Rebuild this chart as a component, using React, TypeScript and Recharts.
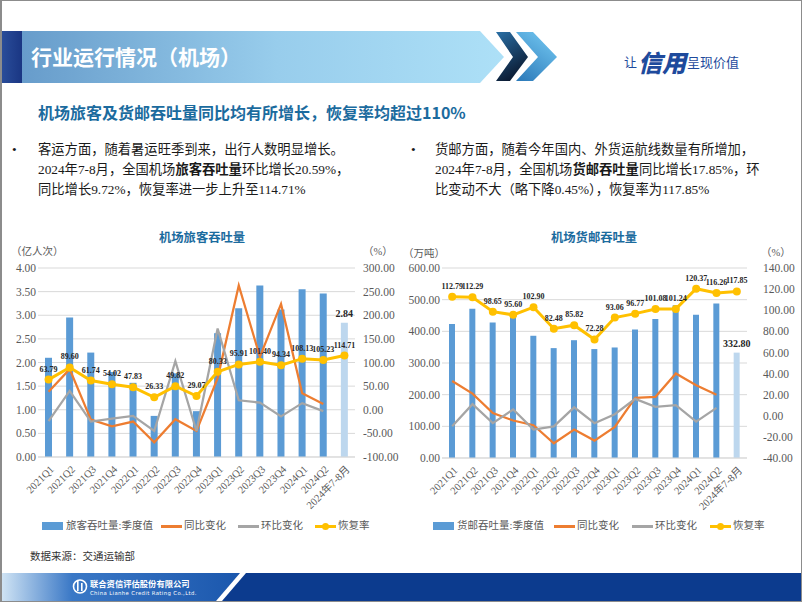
import React from 'react';
import {
  ComposedChart,
  Bar,
  Line,
  XAxis,
  YAxis,
  CartesianGrid,
  Cell,
  LabelList,
} from 'recharts';

// --- Data ---

const categories = [
  '2021Q1', '2021Q2', '2021Q3', '2021Q4',
  '2022Q1', '2022Q2', '2022Q3', '2022Q4',
  '2023Q1', '2023Q2', '2023Q3', '2023Q4',
  '2024Q1', '2024Q2', '2024年7-8月',
];

// 旅客吞吐量 (亿人次) and rates (%)
const paxVolume = [2.1, 2.95, 2.21, 1.8, 1.57, 0.87, 1.77, 0.97, 2.62, 3.15, 3.63, 3.12, 3.55, 3.46, 2.84];
const paxYoy = [38, 86, -21, -35, -25, -69, -20, -45, 67, 263, 112, 224, 35, 12, null];
const paxQoq = [-24, 40, -25, -19, -13, -45, 103, -45, 172, 20, 15, -14, 14, -3, null];
const paxRecovery = [63.79, 89.6, 61.74, 54.02, 47.83, 26.33, 49.82, 29.07, 80.33, 95.91, 101.4, 94.34, 108.13, 105.23, 114.71];

// 货邮吞吐量 (万吨) and rates (%)
const cargoVolume = [423, 471, 428, 450, 386, 347, 372, 344, 349, 406, 439, 482, 452, 488, 332.8];
const cargoYoy = [33, 21, 2.5, -4.5, -9, -26, -13, -23.5, -10.5, 17, 18, 40, 29, 20, null];
const cargoQoq = [-10, 11, -7, 6, -13, -10, 8, -7, 1.5, 16, 8.5, 10, -5.5, 7.5, null];
const cargoRecovery = [112.79, 112.29, 98.65, 95.6, 102.9, 82.48, 85.82, 72.28, 93.06, 96.77, 101.08, 101.24, 120.37, 116.26, 117.85];

const paxLeftTicks = [0, 0.5, 1, 1.5, 2, 2.5, 3, 3.5, 4];
const paxRightTicks = [-100, -50, 0, 50, 100, 150, 200, 250, 300];
const cargoLeftTicks = [0, 100, 200, 300, 400, 500, 600];
const cargoRightTicks = [-40, -20, 0, 20, 40, 60, 80, 100, 120, 140];

const paxData = categories.map((cat, i) => ({
  cat,
  vol: paxVolume[i],
  yoy: paxYoy[i],
  qoq: paxQoq[i],
  rec: paxRecovery[i],
}));

const cargoData = categories.map((cat, i) => ({
  cat,
  vol: cargoVolume[i],
  yoy: cargoYoy[i],
  qoq: cargoQoq[i],
  rec: cargoRecovery[i],
}));

// --- Styles ---

const BLUE = '#5B9BD5';
const LIGHT_BLUE = '#BDD7EE';
const ORANGE = '#ED7D31';
const GRAY = '#A5A5A5';
const YELLOW = '#FFC000';
const AXIS_TEXT = '#595959';
const SERIF = '"Liberation Serif", "Noto Sans CJK SC", serif';
const CJK = '"Noto Sans CJK SC", sans-serif';
const TITLE_BLUE = '#1b6b9e';

const RotatedTick = (props: any) => {
  const { x, y, payload } = props;
  return (
    <g transform={`translate(${x + 6},${y + 13})`}>
      <text
        textAnchor="end"
        transform="rotate(-45)"
        fontSize={10.5}
        fontFamily={SERIF}
        fill={AXIS_TEXT}
      >
        {payload.value}
      </text>
    </g>
  );
};

const lastBarLabel = (props: any) => {
  const { x, y, width, index, value } = props;
  if (index !== categories.length - 1) return null;
  return (
    <text
      x={x + width / 2}
      y={y - 6}
      textAnchor="middle"
      fontSize={10}
      fontWeight="bold"
      fontFamily={SERIF}
      fill="#262626"
    >
      {Number(value).toFixed(2)}
    </text>
  );
};

// --- Chart pieces ---

interface PanelProps {
  data: any[];
  left: number;
  leftAxisWidth: number;
  rightAxisWidth: number;
  leftDomain: number[];
  rightDomain: number[];
  leftTicks: number[];
  rightTicks: number[];
  rightTickMargin: number;
  xAxisHeight: number;
  barSize: number;
}

const Panel: React.FC<PanelProps> = ({
  data,
  left,
  leftAxisWidth,
  rightAxisWidth,
  leftDomain,
  rightDomain,
  leftTicks,
  rightTicks,
  rightTickMargin,
  xAxisHeight,
  barSize,
}) => (
  <div style={{ position: 'absolute', left, top: 240 }}>
    <ComposedChart
      width={400}
      height={300}
      data={data}
      margin={{ top: 28, right: 0, bottom: 0, left: 0 }}
    >
      <CartesianGrid yAxisId="l" vertical={false} stroke="#D9D9D9" />
      <XAxis
        dataKey="cat"
        interval={0}
        height={xAxisHeight}
        tickLine={false}
        axisLine={{ stroke: '#D9D9D9' }}
        tickSize={0}
        tickMargin={0}
        tick={<RotatedTick />}
      />
      <YAxis
        yAxisId="l"
        width={leftAxisWidth}
        domain={leftDomain}
        ticks={leftTicks}
        axisLine={false}
        tickLine={false}
        tickSize={0}
        tickMargin={2}
        interval={0}
        tickFormatter={(v: number) => v.toFixed(2)}
        tick={{ fill: AXIS_TEXT, fontSize: 11.5, fontFamily: SERIF }}
      />
      <YAxis
        yAxisId="r"
        orientation="right"
        width={rightAxisWidth}
        domain={rightDomain}
        ticks={rightTicks}
        axisLine={false}
        tickLine={false}
        tickSize={0}
        tickMargin={rightTickMargin}
        interval={0}
        tickFormatter={(v: number) => v.toFixed(2)}
        tick={{ fill: AXIS_TEXT, fontSize: 11.5, fontFamily: SERIF }}
      />
      <Bar yAxisId="l" dataKey="vol" barSize={barSize} isAnimationActive={false}>
        {data.map((_, i) => (
          <Cell key={i} fill={i === data.length - 1 ? LIGHT_BLUE : BLUE} />
        ))}
        <LabelList dataKey="vol" content={lastBarLabel} />
      </Bar>
      <Line
        yAxisId="r"
        dataKey="yoy"
        stroke={ORANGE}
        strokeWidth={2.25}
        dot={false}
        activeDot={false}
        isAnimationActive={false}
      />
      <Line
        yAxisId="r"
        dataKey="qoq"
        stroke={GRAY}
        strokeWidth={2.25}
        dot={false}
        activeDot={false}
        isAnimationActive={false}
      />
      <Line
        yAxisId="r"
        dataKey="rec"
        stroke={YELLOW}
        strokeWidth={3}
        dot={{ r: 4, fill: YELLOW, stroke: YELLOW, strokeWidth: 0 }}
        activeDot={false}
        isAnimationActive={false}
      >
        <LabelList
          dataKey="rec"
          position="top"
          offset={8}
          formatter={(v: any) => Number(v).toFixed(2)}
          style={{ fontSize: 8, fontWeight: 'bold', fontFamily: SERIF, fill: '#262626' }}
        />
      </Line>
    </ComposedChart>
  </div>
);

const LegendRow = ({ x, barLabel, offsets }: { x: number; barLabel: string; offsets: number[] }) => {
  const text: React.CSSProperties = {
    position: 'absolute',
    top: -7,
    fontSize: 10.5,
    fontFamily: SERIF,
    color: AXIS_TEXT,
    whiteSpace: 'nowrap',
    lineHeight: '14px',
  };
  return (
    <div style={{ position: 'absolute', left: x, top: 526 }}>
      <div style={{ position: 'absolute', left: 0, top: -4, width: 21, height: 8, background: BLUE }} />
      <span style={{ ...text, left: 24 }}>{barLabel}</span>
      <div style={{ position: 'absolute', left: offsets[0], top: -1, width: 21, height: 2.5, background: ORANGE }} />
      <span style={{ ...text, left: offsets[0] + 23 }}>同比变化</span>
      <div style={{ position: 'absolute', left: offsets[1], top: -1, width: 21, height: 2.5, background: GRAY }} />
      <span style={{ ...text, left: offsets[1] + 23 }}>环比变化</span>
      <div style={{ position: 'absolute', left: offsets[2], top: -1, width: 21, height: 2.5, background: YELLOW }} />
      <div style={{ position: 'absolute', left: offsets[2] + 7, top: -3.5, width: 7, height: 7, borderRadius: 4, background: YELLOW }} />
      <span style={{ ...text, left: offsets[2] + 23 }}>恢复率</span>
    </div>
  );
};

const abs = (left: number, top: number, extra: React.CSSProperties = {}): React.CSSProperties => ({
  position: 'absolute',
  left,
  top,
  whiteSpace: 'nowrap',
  ...extra,
});

export default function App() {
  const bodyText: React.CSSProperties = {
    fontFamily: SERIF,
    fontSize: 13.3,
    lineHeight: '20px',
    color: '#1a1a1a',
  };

  return (
    <div
      style={{
        position: 'absolute',
        left: 0,
        top: 0,
        width: 802,
        height: 602,
        boxSizing: 'border-box',
        border: '1px solid #8c8c8c',
        borderLeftWidth: 2,
        background: '#fff',
        overflow: 'hidden',
      }}
    >
      {/* header banner + footer shapes */}
      <svg width={802} height={602} style={{ position: 'absolute', left: -2, top: -1 }}>
        <defs>
          <linearGradient id="banner" x1="0" x2="1" y1="0" y2="0">
            <stop offset="0" stopColor="#6398c8" />
            <stop offset="0.55" stopColor="#98cdec" />
            <stop offset="1" stopColor="#ade0f7" />
          </linearGradient>
          <linearGradient id="stripe" x1="0" x2="1" y1="0" y2="0">
            <stop offset="0" stopColor="#2b4f9c" />
            <stop offset="1" stopColor="#1a3683" />
          </linearGradient>
          <linearGradient id="chev1" x1="0" x2="0.4" y1="0" y2="1">
            <stop offset="0" stopColor="#2a6fa5" />
            <stop offset="1" stopColor="#0b1b33" />
          </linearGradient>
          <linearGradient id="chev2" x1="0" x2="0.6" y1="1" y2="0">
            <stop offset="0" stopColor="#2a78b8" />
            <stop offset="1" stopColor="#6cc0ec" />
          </linearGradient>
          <linearGradient id="foot" x1="0" x2="1" y1="0" y2="0">
            <stop offset="0" stopColor="#d3e6f5" />
            <stop offset="0.3" stopColor="#3a78c6" />
            <stop offset="1" stopColor="#1b57ad" />
          </linearGradient>
        </defs>
        <polygon points="0,31 480,31 504,57 480,83 0,83" fill="url(#banner)" />
        <rect x={0} y={31} width={22} height={52} fill="url(#stripe)" />
        <polygon points="496,32 510,32 528,57 510,81 496,81 513,57" fill="url(#chev1)" />
        <polygon points="516,32 533,32 557,57 533,81 516,81 538,57" fill="url(#chev2)" />
        <text x={31} y={65} fill="#fff" fontSize={21} fontWeight="bold" fontFamily={CJK}>
          行业运行情况（机场）
        </text>

        <rect x={0} y={573} width={802} height={28} fill="#0c3b8e" />
        <polygon points="0,573 240,573 216,601 0,601" fill="url(#foot)" />
        <polygon points="240,573 246,573 222,601 216,601" fill="#ffffff" />
        <circle cx={80} cy={586.5} r={6.5} fill="none" stroke="#fff" strokeWidth={1.6} />
        <rect x={77} y={581} width={1.6} height={10} fill="#fff" />
        <rect x={81} y={583} width={1.6} height={8} fill="#fff" />
        <text x={90} y={587} fill="#fff" fontSize={8.3} fontWeight="bold" fontFamily={CJK}>
          联合资信评估股份有限公司
        </text>
        <text x={90} y={595} fill="#fff" fontSize={5.3} fontFamily='"DejaVu Sans", sans-serif' letterSpacing={0.4}>
          China Lianhe Credit Rating Co.,Ltd.
        </text>
      </svg>

      {/* slogan */}
      <div style={abs(622, 43, { fontFamily: CJK, color: '#1e4a9c', display: 'flex', alignItems: 'center' })}>
        <span style={{ fontSize: 13 }}>让</span>
        <span style={{ fontSize: 24, fontStyle: 'italic', fontWeight: 900, margin: '0 1px', fontFamily: '"Noto Sans CJK SC"' }}>信用</span>
        <span style={{ fontSize: 13 }}>呈现价值</span>
      </div>

      {/* subtitle */}
      <div style={abs(36, 100, { fontFamily: CJK, fontSize: 16, fontWeight: 'bold', color: TITLE_BLUE, lineHeight: '22px' })}>
        机场旅客及货邮吞吐量同比均有所增长，恢复率均超过110%
      </div>

      {/* bullet text */}
      <div style={abs(10, 139, { ...bodyText })}>•</div>
      <div style={abs(36, 139, { ...bodyText })}>
        客运方面，随着暑运旺季到来，出行人数明显增长。
        <br />
        2024年7-8月，全国机场<b>旅客吞吐量</b>环比增长20.59%，
        <br />
        同比增长9.72%，恢复率进一步上升至114.71%
      </div>
      <div style={abs(409, 139, { ...bodyText })}>•</div>
      <div style={abs(433, 139, { ...bodyText })}>
        货邮方面，随着今年国内、外货运航线数量有所增加，
        <br />
        2024年7-8月，全国机场<b>货邮吞吐量</b>同比增长17.85%，环
        <br />
        比变动不大（略下降0.45%），恢复率为117.85%
      </div>

      {/* chart titles and unit labels */}
      <div style={abs(157, 228, { fontFamily: CJK, fontSize: 12.3, fontWeight: 'bold', color: TITLE_BLUE, lineHeight: '16px' })}>
        机场旅客吞吐量
      </div>
      <div style={abs(549, 228, { fontFamily: CJK, fontSize: 12.3, fontWeight: 'bold', color: TITLE_BLUE, lineHeight: '16px' })}>
        机场货邮吞吐量
      </div>
      <div style={abs(9, 244, { fontFamily: SERIF, fontSize: 10.5, color: AXIS_TEXT, lineHeight: '14px' })}>（亿人次）</div>
      <div style={abs(361, 244, { fontFamily: SERIF, fontSize: 10.5, color: AXIS_TEXT, lineHeight: '14px' })}>（%）</div>
      <div style={abs(401, 246, { fontFamily: SERIF, fontSize: 10.5, color: AXIS_TEXT, lineHeight: '14px' })}>（万吨）</div>
      <div style={abs(759, 245, { fontFamily: SERIF, fontSize: 10.5, color: AXIS_TEXT, lineHeight: '14px' })}>（%）</div>

      {/* charts (positions relative to slide; root border offsets by ~1px) */}
      <div style={{ position: 'absolute', left: -2, top: -1 }}>
        <Panel
          data={paxData}
          left={0}
          leftAxisWidth={38}
          rightAxisWidth={45}
          leftDomain={[0, 4]}
          rightDomain={[-100, 300]}
          leftTicks={paxLeftTicks}
          rightTicks={paxRightTicks}
          rightTickMargin={8}
          xAxisHeight={83}
          barSize={7}
        />
        <Panel
          data={cargoData}
          left={400}
          leftAxisWidth={42}
          rightAxisWidth={53}
          leftDomain={[0, 600]}
          rightDomain={[-40, 140]}
          leftTicks={cargoLeftTicks}
          rightTicks={cargoRightTicks}
          rightTickMargin={16}
          xAxisHeight={82}
          barSize={6}
        />
        <LegendRow x={42} barLabel="旅客吞吐量:季度值" offsets={[119, 196, 273]} />
        <LegendRow x={433} barLabel="货邮吞吐量:季度值" offsets={[121, 199, 277]} />
      </div>

      {/* source */}
      <div style={abs(28, 549, { fontFamily: SERIF, fontSize: 10.5, color: '#333', lineHeight: '14px' })}>
        数据来源：交通运输部
      </div>
    </div>
  );
}
